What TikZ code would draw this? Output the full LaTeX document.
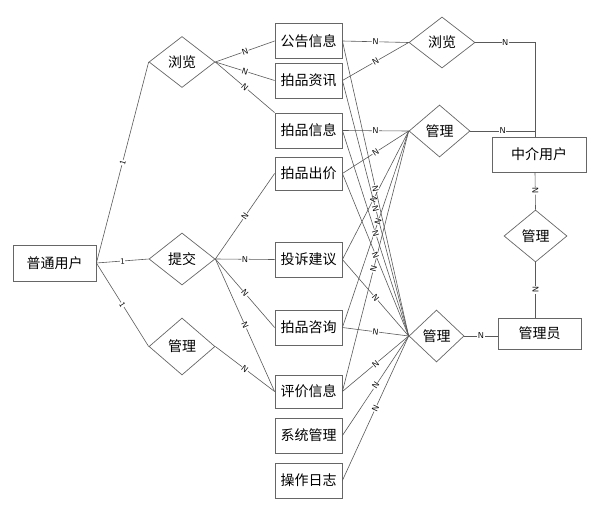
\documentclass[tikz,border=0pt]{standalone}
\usepackage{fontspec}
\newfontfamily\cjk{Noto Sans CJK SC}
\usetikzlibrary{shapes.geometric}
\begin{document}
\begin{tikzpicture}[x=1pt,y=-1pt,
  ent/.style={draw=black!60, line width=0.8pt, minimum width=67pt, minimum height=35pt, inner sep=0pt, font=\cjk\fontsize{14}{14}\selectfont},
  rel/.style={draw=black!60, line width=0.7pt, diamond, inner sep=0pt, font=\cjk\fontsize{14}{14}\selectfont},
  conn/.style={draw=black!65, line width=0.6pt},
  lab/.style={fill=white, inner sep=0.5pt, font=\sffamily\fontsize{8.5}{8.5}\selectfont, sloped}
]
\useasboundingbox (0,0) rectangle (601,514);
% entities
\node[ent, minimum width=83pt, minimum height=36pt] (pt) at (54.5,263) {普通用户};
\node[ent] (ggxx) at (308.5,41) {公告信息};
\node[ent] (ppzx) at (308.5,80.5) {拍品资讯};
\node[ent] (ppxx) at (308.5,130.5) {拍品信息};
\node[ent, minimum height=33pt] (ppcj) at (308.5,173.5) {拍品出价};
\node[ent] (tsjy) at (308.5,259.5) {投诉建议};
\node[ent] (ppzc) at (308.5,327.5) {拍品咨询};
\node[ent, minimum height=33pt] (pjxx) at (308.5,391.5) {评价信息};
\node[ent] (xtgl) at (308.5,435.5) {系统管理};
\node[ent] (czrz) at (308.5,480.5) {操作日志};
\node[ent, minimum width=94pt] (zj) at (539,154.5) {中介用户};
\node[ent, minimum width=83pt, minimum height=31pt] (gly) at (539.5,333.5) {管理员};
% relations
\node[rel, minimum width=66pt, minimum height=51pt] (ll1) at (182,62) {浏览};
\node[rel, minimum width=66pt, minimum height=52pt] (tj) at (182,259) {提交};
\node[rel, minimum width=66pt, minimum height=57pt] (gl1) at (182,346.5) {管理};
\node[rel, minimum width=66pt, minimum height=51pt] (ll2) at (442,42.5) {浏览};
\node[rel, minimum width=61pt, minimum height=52pt] (gl2) at (439.5,131) {管理};
\node[rel, minimum width=63pt, minimum height=52pt] (gl3) at (535.5,236) {管理};
\node[rel, minimum width=55pt, minimum height=52pt] (gl4) at (436.5,336) {管理};
% helper coordinates
\coordinate (zjt) at ([xshift=-4pt]zj.north);
\coordinate (zjb) at ([xshift=-4pt]zj.south);
\coordinate (glyt) at ([xshift=-4pt]gly.north);
% left part
\draw[conn] (pt.east) -- node[lab]{1} (ll1.west);
\draw[conn] (pt.east) -- node[lab]{1} (tj.west);
\draw[conn] (pt.east) -- node[lab]{1} (gl1.west);
\draw[conn] (ll1.east) -- node[lab]{N} (ggxx.west);
\draw[conn] (ll1.east) -- node[lab]{N} (ppzx.west);
\draw[conn] (ll1.east) -- node[lab]{N} (ppxx.north west);
\draw[conn] (tj.east) -- node[lab]{N} (ppcj.west);
\draw[conn] (tj.east) -- node[lab]{N} (tsjy.west);
\draw[conn] (tj.east) -- node[lab]{N} (ppzc.west);
\draw[conn] (tj.east) -- node[lab]{N} (pjxx.west);
\draw[conn] (gl1.east) -- node[lab]{N} (pjxx.west);
% middle fan
\draw[conn] (ggxx.east) -- node[lab]{N} (ll2.west);
\draw[conn] (ppzx.east) -- node[lab]{N} (ll2.west);
\draw[conn] (ppxx.east) -- node[lab]{N} (gl2.west);
\draw[conn] (ppcj.east) -- node[lab]{N} (gl2.west);
\draw[conn] (tsjy.east) -- node[lab, pos=0.47]{N} (gl2.west);
\draw[conn] (ppzc.east) -- node[lab, pos=0.54]{N} (gl2.west);
\draw[conn] (pjxx.east) -- node[lab, pos=0.47]{N} (gl2.west);
\draw[conn] (ggxx.east) -- node[lab]{N} (gl4.west);
\draw[conn] (ppzx.east) -- node[lab]{N} (gl4.west);
\draw[conn] (ppxx.east) -- node[lab]{N} (gl4.west);
\draw[conn] (ppcj.east) -- node[lab]{N} (gl4.west);
\draw[conn] (tsjy.east) -- node[lab]{N} (gl4.west);
\draw[conn] (ppzc.east) -- node[lab]{N} (gl4.west);
\draw[conn] (pjxx.east) -- node[lab]{N} (gl4.west);
\draw[conn] (xtgl.east) -- node[lab]{N} (gl4.west);
\draw[conn] (czrz.east) -- node[lab]{N} (gl4.west);
% right part
\draw[conn] (ll2.east) -- node[lab]{N} (ll2.east -| zjt) -- (zjt);
\draw[conn] (gl2.east) -- node[lab]{N} (gl2.east -| zjt);
\draw[conn] (zjb) -- node[lab]{N} (gl3.north);
\draw[conn] (gl3.south) -- node[lab]{N} (glyt);
\draw[conn] (gl4.east) -- node[lab]{N} (gl4.east -| gly.west);
\end{tikzpicture}
\end{document}
